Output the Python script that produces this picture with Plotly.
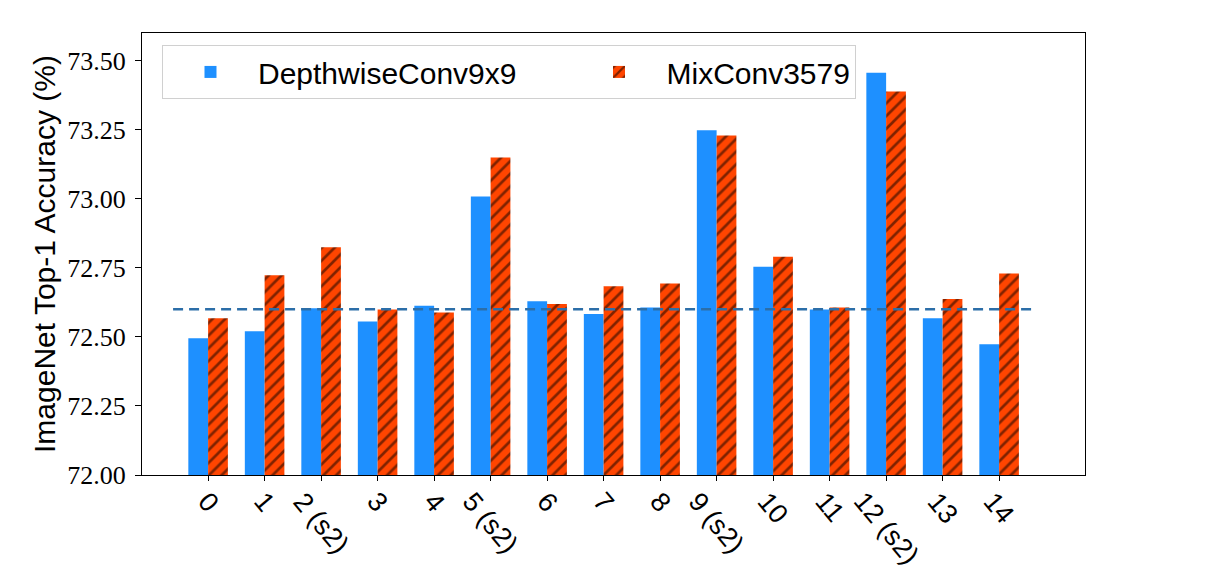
import plotly.graph_objects as go

categories = ["0", "1", "2 (s2)", "3", "4", "5 (s2)", "6", "7", "8", "9 (s2)",
              "10", "11", "12 (s2)", "13", "14"]
depthwise = [72.495, 72.52, 72.604, 72.556, 72.613, 73.008, 72.629, 72.583,
             72.606, 73.248, 72.754, 72.599, 73.456, 72.567, 72.473]
mixconv = [72.567, 72.723, 72.824, 72.599, 72.588, 73.149, 72.619, 72.683,
           72.693, 73.229, 72.790, 72.606, 73.388, 72.637, 72.729]
baseline = 72.60
y_ticks = [72.00, 72.25, 72.50, 72.75, 73.00, 73.25, 73.50]
series_names = ["DepthwiseConv9x9", "MixConv3579"]

xs = list(range(len(categories)))
NB = "\u00a0"

fig = go.Figure()
fig.add_trace(go.Bar(
    x=xs, y=[v - 72 for v in depthwise], base=72,
    name=series_names[0] + NB * 6,
    marker=dict(color="#1e90ff", line=dict(width=0)),
))
fig.add_trace(go.Bar(
    x=xs, y=[v - 72 for v in mixconv], base=72, name=series_names[1],
    marker=dict(color="#ff4500", line=dict(width=0),
                pattern=dict(shape="/", fgcolor="black", bgcolor="#ff4500",
                             size=9, solidity=0.3)),
))

fig.add_shape(type="line", xref="x", yref="y",
              x0=xs[0] - 0.62, x1=xs[-1] + 0.62, y0=baseline, y1=baseline,
              line=dict(color="#2c6ea8", width=2.3, dash="10px,6px"))

for x, lab in zip(xs, categories):
    fig.add_annotation(x=x, y=-0.02, xref="x", yref="paper", text=lab,
                       showarrow=False, textangle=50, xanchor="center",
                       yanchor="top",
                       font=dict(family="Liberation Sans", size=27, color="black"))

fig.update_layout(
    width=1210, height=564,
    margin=dict(l=134, r=133, t=25, b=97),
    paper_bgcolor="white", plot_bgcolor="white",
    barmode="group", bargap=0.3, bargroupgap=0,
    showlegend=True,
    legend=dict(orientation="h", x=0.0212, y=0.973, xanchor="left", yanchor="top",
                bgcolor="white", bordercolor="#d0d0d0", borderwidth=1,
                font=dict(family="Liberation Sans", size=30, color="black"),
                itemwidth=85, traceorder="normal"),
    xaxis=dict(range=[-1.17, 15.52], showgrid=False, zeroline=False,
               tickvals=xs, ticktext=[""] * len(xs), ticks="outside",
               ticklen=5, tickcolor="black", showline=True, linecolor="black",
               linewidth=1, mirror=True),
    yaxis=dict(range=[72.0, 73.6], showgrid=False, zeroline=False,
               tickvals=y_ticks, ticktext=[f"{v:.2f}" for v in y_ticks],
               ticks="outside", ticklen=6, tickcolor="black", ticklabelstandoff=4,
               showline=True, linecolor="black", linewidth=1, mirror=True,
               tickfont=dict(family="Liberation Serif", size=26, color="black"),
               title=dict(text="ImageNet Top-1 Accuracy (%)", standoff=2,
                          font=dict(family="Liberation Sans", size=30,
                                    color="black"))),
)

fig.write_html("out.html")
